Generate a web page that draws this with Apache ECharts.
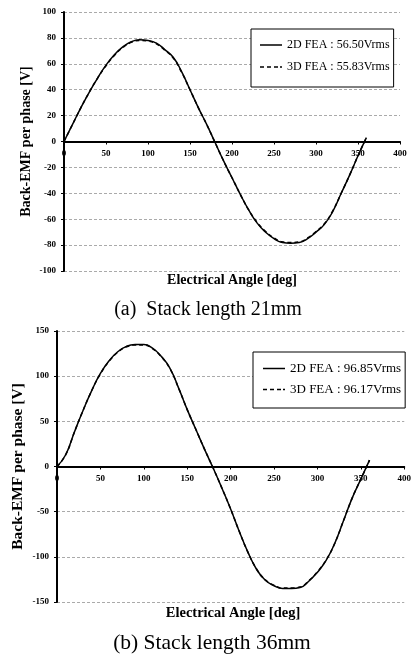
<!DOCTYPE html>
<html lang="en">
  <head>
    <meta charset="UTF-8" />
    <title>Back-EMF per phase</title>
    <style>
      body {
        margin: 0;
        background: #fff;
      }
      #chart {
        width: 414px;
        height: 655px;
      }
    </style>
    <script src="https://cdn.jsdelivr.net/npm/echarts@6/dist/echarts.min.js"></script>
  </head>
  <body>
    <div id="chart"></div>
    <script>
      // electrical angle, every 10 deg
      const angles = [
        0, 10, 20, 30, 40, 50, 60, 70, 80, 90, 100, 110, 120, 130, 140, 150,
        160, 170, 180, 190, 200, 210, 220, 230, 240, 250, 260, 270, 280, 290,
        300, 310, 320, 330, 340, 350, 360,
      ];

      // (a) stack length 21mm
      const emf2dA = [
        0, 13, 26, 38, 49, 59, 67, 73, 77, 78.5, 78, 76, 71, 65, 54, 40, 26,
        13, -1, -15, -28, -41, -53, -63, -70, -75, -78, -78.5, -78, -75, -70,
        -64, -54, -40, -26, -11, 3,
      ];
      const emf3dA = [
        0, 13, 26, 38, 49, 58.5, 66.5, 72.5, 76.5, 78, 77.5, 75.5, 70.5, 64.5,
        53.5, 40, 26, 13, -1, -15, -28, -41, -53, -62.5, -69.5, -74.5, -77.5,
        -78, -77.5, -74.5, -69.5, -63.5, -53.5, -40, -26, -11, 3,
      ];

      // (b) stack length 36mm
      const emf2dB = [
        0, 13, 38, 62, 84, 103, 117, 127, 133, 135, 135, 131, 122, 109, 87, 63,
        41, 19, -2, -24, -47, -72, -95, -114, -126, -132, -135, -135, -134,
        -127, -117, -104, -85, -60, -35, -14, 7,
      ];
      const emf3dB = [
        0, 13, 38, 62, 84, 102.5, 116.5, 126.5, 132.5, 134.5, 134.5, 130.5,
        121.5, 108.5, 87, 63, 41, 19, -2, -24, -47, -72, -95, -113.5, -125.5,
        -131.5, -134.5, -134.5, -133.5, -126.5, -116.5, -103.5, -85, -60, -35,
        -14, 7,
      ];

      const names = [
        "2D FEA : 56.50Vrms",
        "3D FEA : 55.83Vrms",
        "2D FEA : 96.85Vrms",
        "3D FEA : 96.17Vrms",
      ];

      const serif = "Liberation Serif";
      const solidIcon = "path://M0,0H22V1.5H0Z";
      const dashIcon = "path://M0,0H4V1.5H0Z M7,0H11V1.5H7Z M14,0H18V1.5H14Z M20,0H22V1.5H20Z";

      function pairs(values) {
        return angles.map((a, i) => [a, values[i]]);
      }

      // x axis sits on the zero line, half way down the grid
      function xAxisFor(gridIndex, shift) {
        return {
          type: "value",
          gridIndex: gridIndex,
          min: 0,
          max: 400,
          interval: 50,
          offset: shift,
          axisLine: { onZero: false, lineStyle: { color: "#000", width: 2 } },
          axisTick: { show: true, length: 3, lineStyle: { color: "#000" } },
          axisLabel: {
            margin: 8,
            color: "#000",
            fontFamily: serif,
            fontWeight: "bold",
            fontSize: 9,
          },
          splitLine: { show: false },
        };
      }

      function yAxisFor(gridIndex, min, max, step, gap, nameSize) {
        return {
          type: "value",
          gridIndex: gridIndex,
          min: min,
          max: max,
          interval: step,
          name: "Back-EMF per phase [V]",
          nameLocation: "middle",
          nameRotate: 90,
          nameGap: gap,
          nameMoveOverlap: false,
          nameTextStyle: {
            color: "#000",
            fontFamily: serif,
            fontWeight: "bold",
            fontSize: nameSize,
          },
          axisLine: { show: true, lineStyle: { color: "#000", width: 2 } },
          axisTick: { show: true, length: 3, lineStyle: { color: "#000" } },
          axisLabel: {
            margin: 8,
            color: "#000",
            fontFamily: serif,
            fontWeight: "bold",
            fontSize: 9,
          },
          splitLine: {
            show: true,
            lineStyle: { color: "#aaa", type: [3, 2], width: 1 },
          },
        };
      }

      function lineSeries(name, values, idx, dashed) {
        return {
          name: name,
          type: "line",
          xAxisIndex: idx,
          yAxisIndex: idx,
          data: pairs(values),
          symbol: "none",
          smooth: 0.5,
          lineStyle: {
            color: "#000",
            width: 1.5,
            type: dashed ? [4, 3] : "solid",
          },
          itemStyle: { color: "#000" },
        };
      }

      function legendFor(data, left, top, padding, gap, fontSize) {
        return {
          data: [
            { name: data[0], icon: solidIcon },
            { name: data[1], icon: dashIcon },
          ],
          orient: "vertical",
          left: left,
          top: top,
          padding: padding,
          itemGap: gap,
          itemWidth: 22,
          itemHeight: 2,
          backgroundColor: "#fff",
          borderColor: "#000",
          borderWidth: 1,
          borderRadius: 0,
          selectedMode: false,
          itemStyle: { color: "#000", borderWidth: 0 },
          textStyle: { color: "#000", fontFamily: serif, fontSize: fontSize },
        };
      }

      function label(text, x, y, size, bold) {
        return {
          type: "text",
          x: x,
          y: y,
          style: {
            text: text,
            fill: "#000",
            fontFamily: serif,
            fontSize: size,
            fontWeight: bold ? "bold" : "normal",
            align: "center",
            verticalAlign: "middle",
          },
        };
      }

      const chart = echarts.init(document.getElementById("chart"));
      chart.setOption({
        animation: false,
        grid: [
          { left: 64, top: 12, width: 336, height: 259 },
          { left: 57, top: 331, width: 356, height: 271 },
        ],
        xAxis: [xAxisFor(0, -129.5), xAxisFor(1, -135.5)],
        yAxis: [
          yAxisFor(0, -100, 100, 20, 31, 14),
          yAxisFor(1, -150, 150, 50, 31, 15.5),
        ],
        legend: [
          legendFor([names[0], names[1]], 251, 29, [10, 4, 14, 9], 10, 12),
          legendFor([names[2], names[3]], 253, 352, [10, 4, 12, 10], 8, 13),
        ],
        graphic: [
          label("Electrical Angle [deg]", 232, 280, 14, true),
          label("Electrical Angle [deg]", 233, 613, 14.5, true),
          label("(a)  Stack length 21mm", 208, 310, 20, false),
          label("(b) Stack length 36mm", 212, 643, 21.5, false),
        ],
        series: [
          lineSeries(names[0], emf2dA, 0, false),
          lineSeries(names[1], emf3dA, 0, true),
          lineSeries(names[2], emf2dB, 1, false),
          lineSeries(names[3], emf3dB, 1, true),
        ],
      });
    </script>
  </body>
</html>
